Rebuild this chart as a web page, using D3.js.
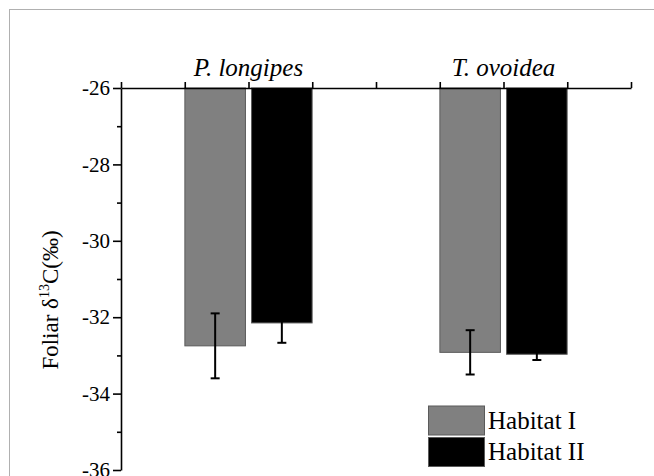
<!DOCTYPE html>
<html>
<head>
<meta charset="utf-8">
<script src="https://cdn.jsdelivr.net/npm/d3@7"></script>
<style>
  body { margin: 0; background: #fff; }
  svg text { font-family: 'Liberation Serif', 'DejaVu Serif', 'Times New Roman', Times, serif !important; }
</style>
</head>
<body>
<div id="chart"></div>
<script>
// data
const species = ["P. longipes", "T. ovoidea"];
const speciesPos = [1, 3];
const habitats = ["Habitat I", "Habitat II"];
const habitatColors = ["#808080", "#000000"];
const means = [
  [-32.75, -32.15],
  [-32.92, -32.97],
];
const errors = [
  [0.85, 0.52],
  [0.58, 0.15],
];
const yTicks = [-26, -28, -30, -32, -34, -36];
const yMinor = [-27, -29, -31, -33, -35];

const W = 654, H = 476;
const svg = d3.select("#chart").append("svg")
  .attr("width", W)
  .attr("height", H);

// light frame of the figure
svg.append("rect")
  .attr("x", 9.5).attr("y", 9.5)
  .attr("width", W + 10).attr("height", H + 10)
  .attr("fill", "none")
  .attr("stroke", "#b0b0b0");

const x = d3.scaleLinear().domain([0, 4]).range([121, 631]);
const y = d3.scaleLinear().domain([-26, -36]).range([88, 470]);

// bars hang down from -26
const bw = 0.475, gap = 0.024;
const rows = [];
species.forEach((s, i) => {
  habitats.forEach((h, j) => {
    const x0 = j === 0 ? speciesPos[i] - gap - bw : speciesPos[i] + gap;
    rows.push({ s, h, j, x0, x1: x0 + bw, v: means[i][j], e: errors[i][j] });
  });
});

svg.append("g").selectAll("rect")
  .data(rows)
  .join("rect")
  .attr("x", d => x(d.x0))
  .attr("y", y(-26))
  .attr("width", d => x(d.x1) - x(d.x0))
  .attr("height", d => y(d.v) - y(-26))
  .attr("fill", d => habitatColors[d.j])
  .attr("stroke", "#5a5a5a")
  .attr("stroke-width", 1);

// error bars
const eb = svg.append("g").attr("stroke", "#000").attr("stroke-width", 2);
rows.forEach(d => {
  const cx = x((d.x0 + d.x1) / 2);
  eb.append("line").attr("x1", cx).attr("x2", cx)
    .attr("y1", y(d.v + d.e)).attr("y2", y(d.v - d.e));
  [d.v + d.e, d.v - d.e].forEach(v => {
    eb.append("line").attr("x1", cx - 4.5).attr("x2", cx + 4.5)
      .attr("y1", y(v)).attr("y2", y(v));
  });
});

// top x axis
const xAxis = svg.append("g")
  .attr("transform", "translate(0," + y(-26) + ")")
  .call(d3.axisTop(x).tickValues(d3.range(0, 4.01, 0.5)).tickFormat("").tickSize(6).tickSizeOuter(0));
xAxis.selectAll("path, line").attr("stroke", "#000").attr("stroke-width", 1.6);

svg.append("g").selectAll("text")
  .data(species)
  .join("text")
  .attr("x", (d, i) => x(speciesPos[i]))
  .attr("y", 76)
  .attr("text-anchor", "middle")
  .attr("font-style", "italic")
  .attr("font-size", 25)
  .text(d => d);

// left y axis
const yAxis = svg.append("g")
  .attr("transform", "translate(" + x(0) + ",0)")
  .call(d3.axisLeft(y).tickValues(yTicks).tickFormat(d => String(d)).tickSize(8).tickPadding(3).tickSizeOuter(0));
yAxis.selectAll("path, line").attr("stroke", "#000").attr("stroke-width", 1.6);
yAxis.selectAll("text").attr("font-size", 21).attr("fill", "#000");

svg.append("g")
  .attr("transform", "translate(" + x(0) + ",0)")
  .call(d3.axisLeft(y).tickValues(yMinor).tickFormat("").tickSize(4))
  .call(g => g.select(".domain").remove())
  .selectAll("line").attr("stroke", "#000").attr("stroke-width", 1.6);

// y label
const yl = svg.append("text")
  .attr("transform", "translate(58,300) rotate(-90)")
  .attr("text-anchor", "middle")
  .attr("font-size", 23);
yl.append("tspan").text("Foliar δ");
yl.append("tspan").attr("font-size", 14).attr("dy", -9).text("13");
yl.append("tspan").attr("dy", 9).text("C(‰)");

// legend
const lg = svg.append("g");
habitats.forEach((h, j) => {
  lg.append("rect")
    .attr("x", 428.5).attr("y", 406 + j * 31.5)
    .attr("width", 56).attr("height", 29)
    .attr("fill", habitatColors[j])
    .attr("stroke", "#5a5a5a");
  lg.append("text")
    .attr("x", 488).attr("y", 428.5 + j * 31.5)
    .attr("font-size", 25)
    .text(h);
});
</script>
</body>
</html>
